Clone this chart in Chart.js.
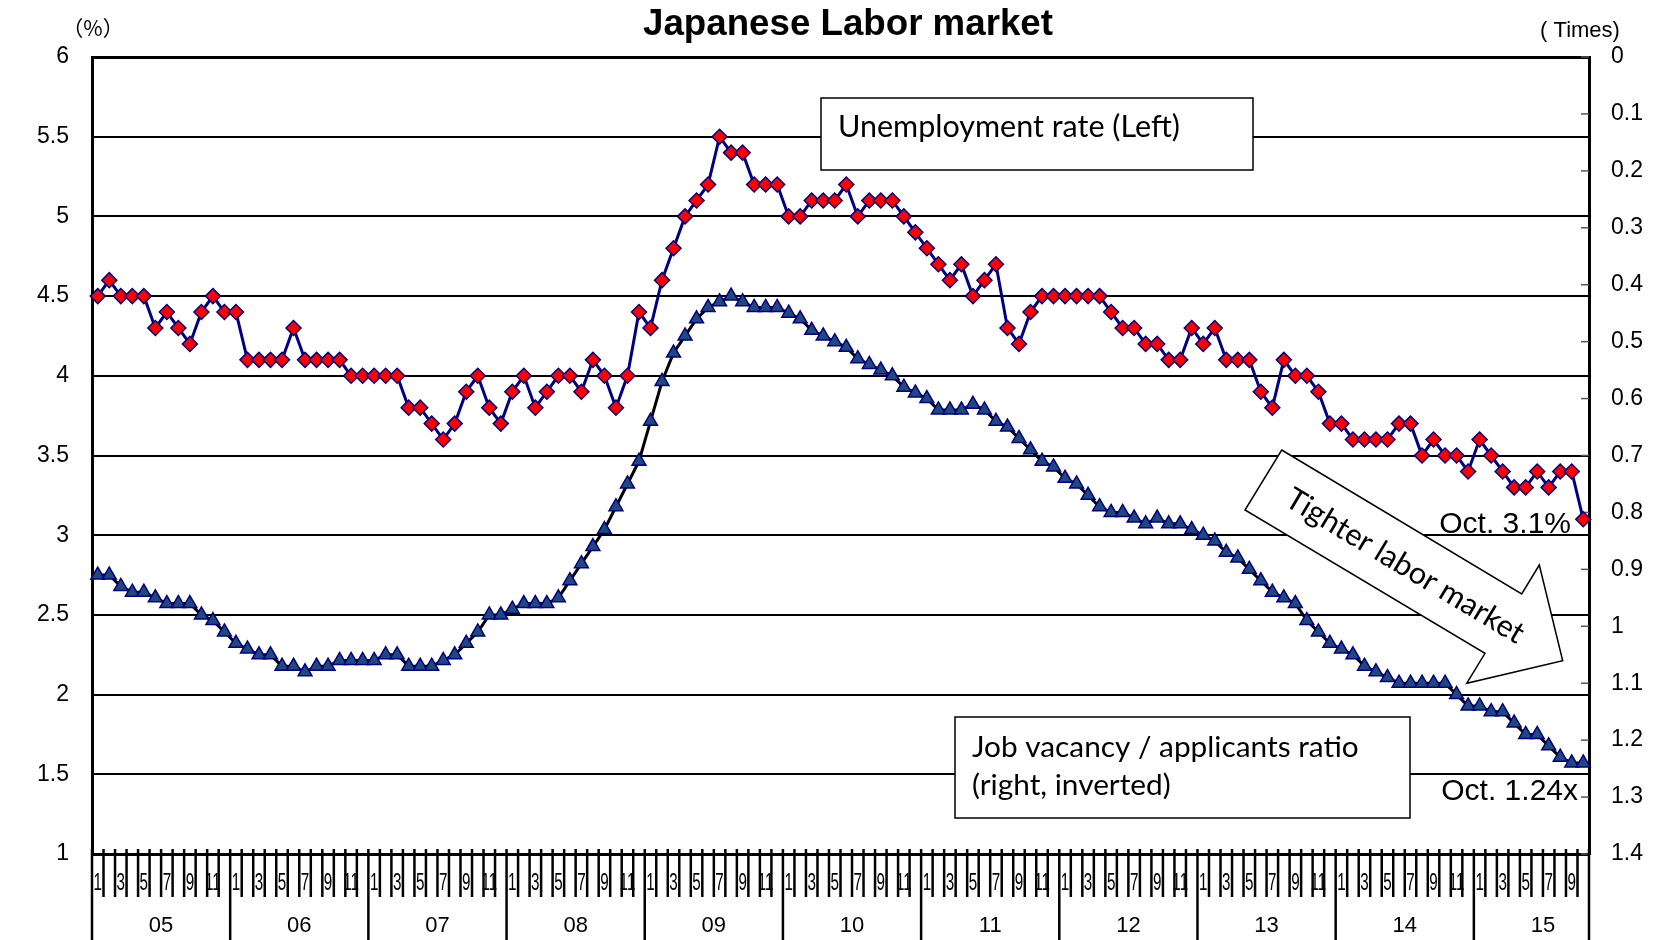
<!DOCTYPE html>
<html>
<head>
<meta charset="utf-8">
<title>Japanese Labor market</title>
<script src="https://cdn.jsdelivr.net/npm/chart.js@4.4.1/dist/chart.umd.min.js"></script>
<style>
  html, body { margin: 0; padding: 0; background: #fff; }
  #wrap { width: 1655px; height: 940px; }
</style>
</head>
<body>
<div id="wrap"><canvas id="laborChart" width="1655" height="940"></canvas></div>
<script>
// years on the axis, and how many months each one has in the data
const years = ['05', '06', '07', '08', '09', '10', '11', '12', '13', '14', '15'];
const monthsPerYear = [12, 12, 12, 12, 12, 12, 12, 12, 12, 12, 10];
// only odd months are labelled under the axis
const monthTickLabels = ['1', '', '3', '', '5', '', '7', '', '9', '', '11', ''];
const leftTicks = { min: 1, max: 6, step: 0.5 };
const rightTicks = { min: 0, max: 1.4, step: 0.1 };

// unemployment rate, %, left axis
const unemploymentRate = [
  4.5, 4.6, 4.5, 4.5, 4.5, 4.3, 4.4, 4.3, 4.2, 4.4, 4.5, 4.4, // 2005
  4.4, 4.1, 4.1, 4.1, 4.1, 4.3, 4.1, 4.1, 4.1, 4.1, 4.0, 4.0, // 2006
  4.0, 4.0, 4.0, 3.8, 3.8, 3.7, 3.6, 3.7, 3.9, 4.0, 3.8, 3.7, // 2007
  3.9, 4.0, 3.8, 3.9, 4.0, 4.0, 3.9, 4.1, 4.0, 3.8, 4.0, 4.4, // 2008
  4.3, 4.6, 4.8, 5.0, 5.1, 5.2, 5.5, 5.4, 5.4, 5.2, 5.2, 5.2, // 2009
  5.0, 5.0, 5.1, 5.1, 5.1, 5.2, 5.0, 5.1, 5.1, 5.1, 5.0, 4.9, // 2010
  4.8, 4.7, 4.6, 4.7, 4.5, 4.6, 4.7, 4.3, 4.2, 4.4, 4.5, 4.5, // 2011
  4.5, 4.5, 4.5, 4.5, 4.4, 4.3, 4.3, 4.2, 4.2, 4.1, 4.1, 4.3, // 2012
  4.2, 4.3, 4.1, 4.1, 4.1, 3.9, 3.8, 4.1, 4.0, 4.0, 3.9, 3.7, // 2013
  3.7, 3.6, 3.6, 3.6, 3.6, 3.7, 3.7, 3.5, 3.6, 3.5, 3.5, 3.4, // 2014
  3.6, 3.5, 3.4, 3.3, 3.3, 3.4, 3.3, 3.4, 3.4, 3.1            // 2015
];

// job vacancy / applicants ratio, times, right axis (inverted)
const jobRatio = [
  0.91, 0.91, 0.93, 0.94, 0.94, 0.95, 0.96, 0.96, 0.96, 0.98, 0.99, 1.01, // 2005
  1.03, 1.04, 1.05, 1.05, 1.07, 1.07, 1.08, 1.07, 1.07, 1.06, 1.06, 1.06, // 2006
  1.06, 1.05, 1.05, 1.07, 1.07, 1.07, 1.06, 1.05, 1.03, 1.01, 0.98, 0.98, // 2007
  0.97, 0.96, 0.96, 0.96, 0.95, 0.92, 0.89, 0.86, 0.83, 0.79, 0.75, 0.71, // 2008
  0.64, 0.57, 0.52, 0.49, 0.46, 0.44, 0.43, 0.42, 0.43, 0.44, 0.44, 0.44, // 2009
  0.45, 0.46, 0.48, 0.49, 0.50, 0.51, 0.53, 0.54, 0.55, 0.56, 0.58, 0.59, // 2010
  0.60, 0.62, 0.62, 0.62, 0.61, 0.62, 0.64, 0.65, 0.67, 0.69, 0.71, 0.72, // 2011
  0.74, 0.75, 0.77, 0.79, 0.80, 0.80, 0.81, 0.82, 0.81, 0.82, 0.82, 0.83, // 2012
  0.84, 0.85, 0.87, 0.88, 0.90, 0.92, 0.94, 0.95, 0.96, 0.99, 1.01, 1.03, // 2013
  1.04, 1.05, 1.07, 1.08, 1.09, 1.10, 1.10, 1.10, 1.10, 1.10, 1.12, 1.14, // 2014
  1.14, 1.15, 1.15, 1.17, 1.19, 1.19, 1.21, 1.23, 1.24, 1.24              // 2015
];

const categories = [];
years.forEach((yy, i) => {
  for (let m = 1; m <= monthsPerYear[i]; m++) categories.push(yy + '/' + m);
});

const ARIAL = '"Liberation Sans", Arial, sans-serif';
const CALIBRI = 'Lato, "Open Sans", sans-serif';

// font size that makes text fill a given width
function fitSize(ctx, text, weight, family, width) {
  ctx.font = weight + ' 100px ' + family;
  return 100 * width / ctx.measureText(text).width;
}

const decorations = {
  id: 'decorations',
  beforeDatasetsDraw(chart) {
    const { ctx, chartArea: a, scales: { y2 } } = chart;
    ctx.save();

    // small ticks inside the right axis
    ctx.strokeStyle = '#555';
    ctx.lineWidth = 1.5;
    y2.ticks.forEach(t => {
      const py = y2.getPixelForValue(t.value);
      ctx.beginPath();
      ctx.moveTo(a.right - 8, py);
      ctx.lineTo(a.right, py);
      ctx.stroke();
    });

    // series name boxes
    ctx.fillStyle = '#fff';
    ctx.strokeStyle = '#000';
    ctx.lineWidth = 1.5;
    ctx.fillRect(821, 98, 432, 72);
    ctx.strokeRect(821, 98, 432, 72);
    ctx.fillRect(955, 717, 455, 101);
    ctx.strokeRect(955, 717, 455, 101);

    ctx.fillStyle = '#000';
    ctx.textAlign = 'left';
    ctx.textBaseline = 'alphabetic';
    let s = fitSize(ctx, 'Unemployment rate (Left)', 'normal', CALIBRI, 342);
    ctx.font = s.toFixed(1) + 'px ' + CALIBRI;
    ctx.fillText('Unemployment rate (Left)', 838, 137);
    s = fitSize(ctx, 'Job vacancy / applicants ratio', 'normal', CALIBRI, 387);
    ctx.font = s.toFixed(1) + 'px ' + CALIBRI;
    ctx.fillText('Job vacancy / applicants ratio', 972, 757);
    ctx.fillText('(right, inverted)', 972, 795);

    // big outlined arrow
    ctx.beginPath();
    ctx.moveTo(1281.7, 450);
    ctx.lineTo(1521.7, 594);
    ctx.lineTo(1539.3, 565);
    ctx.lineTo(1562.7, 660.7);
    ctx.lineTo(1466.7, 683.3);
    ctx.lineTo(1485, 653.3);
    ctx.lineTo(1245, 510);
    ctx.closePath();
    ctx.fillStyle = '#fff';
    ctx.fill();
    ctx.strokeStyle = '#000';
    ctx.lineWidth = 1.5;
    ctx.stroke();

    ctx.save();
    ctx.translate(1405, 566);
    ctx.rotate(Math.atan2(144, 240));
    s = fitSize(ctx, 'Tighter labor market', 'normal', CALIBRI, 272);
    ctx.font = s.toFixed(1) + 'px ' + CALIBRI;
    ctx.fillStyle = '#000';
    ctx.textAlign = 'center';
    ctx.textBaseline = 'middle';
    ctx.fillText('Tighter labor market', 0, 0);
    ctx.restore();

    ctx.restore();
  },
  afterDraw(chart) {
    const { ctx, chartArea: a, scales: { x } } = chart;
    const n = categories.length;
    const half = (x.getPixelForValue(1) - x.getPixelForValue(0)) / 2;
    const edge = i => (i < n ? x.getPixelForValue(i) - half : x.getPixelForValue(n - 1) + half);
    ctx.save();

    // month ticks and year separators
    ctx.strokeStyle = '#000';
    ctx.lineWidth = 2.5;
    for (let i = 0; i <= n; i++) {
      const px = edge(i);
      const isYear = i % 12 === 0 || i === n;
      ctx.beginPath();
      ctx.moveTo(px, a.bottom - 5);
      ctx.lineTo(px, isYear ? 940 : 897);
      ctx.stroke();
    }

    // month numbers, squeezed like the original
    ctx.fillStyle = '#000';
    ctx.textAlign = 'center';
    ctx.textBaseline = 'middle';
    ctx.font = '23px ' + ARIAL;
    for (let i = 0; i < n; i++) {
      const label = monthTickLabels[i % 12];
      if (!label) continue;
      ctx.save();
      ctx.translate(x.getPixelForValue(i), 884);
      ctx.scale(0.66, 1);
      ctx.fillText(label, 0, 0);
      ctx.restore();
    }

    // year labels, centred on a full twelve-month slot
    ctx.font = '22px ' + ARIAL;
    let start = 0;
    years.forEach((yy, k) => {
      ctx.fillText(yy, edge(start) + half * 12, 926);
      start += monthsPerYear[k];
    });

    // title and units
    const ts = fitSize(ctx, 'Japanese Labor market', 'bold', ARIAL, 410);
    ctx.font = 'bold ' + ts.toFixed(1) + 'px ' + ARIAL;
    ctx.textBaseline = 'alphabetic';
    ctx.fillText('Japanese Labor market', 848, 35);
    ctx.textBaseline = 'middle';
    ctx.font = '21px "Noto Sans CJK JP", ' + ARIAL;
    ctx.fillText('（%）', 93, 28);
    ctx.font = '22px ' + ARIAL;
    ctx.fillText('( Times)', 1580, 31);

    // latest values
    ctx.textAlign = 'right';
    ctx.textBaseline = 'alphabetic';
    ctx.font = '30px ' + ARIAL;
    ctx.fillText('Oct. 3.1%', 1571, 533);
    ctx.fillText('Oct. 1.24x', 1578, 800);

    ctx.restore();
  }
};

const ctx = document.getElementById('laborChart').getContext('2d');
new Chart(ctx, {
  type: 'line',
  data: {
    labels: categories,
    datasets: [{
      label: 'Unemployment rate (Left)',
      data: unemploymentRate,
      yAxisID: 'y',
      borderColor: '#000080',
      borderWidth: 3,
      pointStyle: 'rectRot',
      pointRadius: 7.5,
      pointBackgroundColor: '#ff0000',
      pointBorderColor: '#000080',
      pointBorderWidth: 1.5,
      tension: 0,
      clip: false
    }, {
      label: 'Job vacancy / applicants ratio (right, inverted)',
      data: jobRatio,
      yAxisID: 'y2',
      borderColor: '#000000',
      borderWidth: 3,
      pointStyle: 'triangle',
      pointRadius: 8,
      pointBackgroundColor: '#1f497d',
      pointBorderColor: '#000080',
      pointBorderWidth: 1.5,
      tension: 0,
      clip: false
    }]
  },
  options: {
    responsive: false,
    animation: false,
    layout: { padding: { top: 57, bottom: 86, left: 0, right: 0 } },
    plugins: {
      legend: { display: false },
      title: { display: false },
      tooltip: { enabled: false }
    },
    scales: {
      x: {
        display: false,
        offset: true
      },
      y: {
        position: 'left',
        min: leftTicks.min,
        max: leftTicks.max,
        afterFit(scale) { scale.width = 92; },
        ticks: {
          stepSize: leftTicks.step,
          padding: 23,
          color: '#000',
          font: { family: ARIAL, size: 23 },
          callback: v => String(v)
        },
        grid: {
          color: '#000',
          lineWidth: c => (c.tick && (c.tick.value === leftTicks.min || c.tick.value === leftTicks.max) ? 3 : 2),
          drawTicks: false
        },
        border: { display: true, color: '#000', width: 3 }
      },
      y2: {
        position: 'right',
        reverse: true,
        min: rightTicks.min,
        max: rightTicks.max,
        afterFit(scale) { scale.width = 66; },
        ticks: {
          stepSize: rightTicks.step,
          padding: 22,
          color: '#000',
          font: { family: ARIAL, size: 23 },
          callback: v => String(Math.round(v * 10) / 10)
        },
        grid: { drawOnChartArea: false, drawTicks: false },
        border: { display: true, color: '#000', width: 3 }
      }
    }
  },
  plugins: [decorations]
});
</script>
</body>
</html>
